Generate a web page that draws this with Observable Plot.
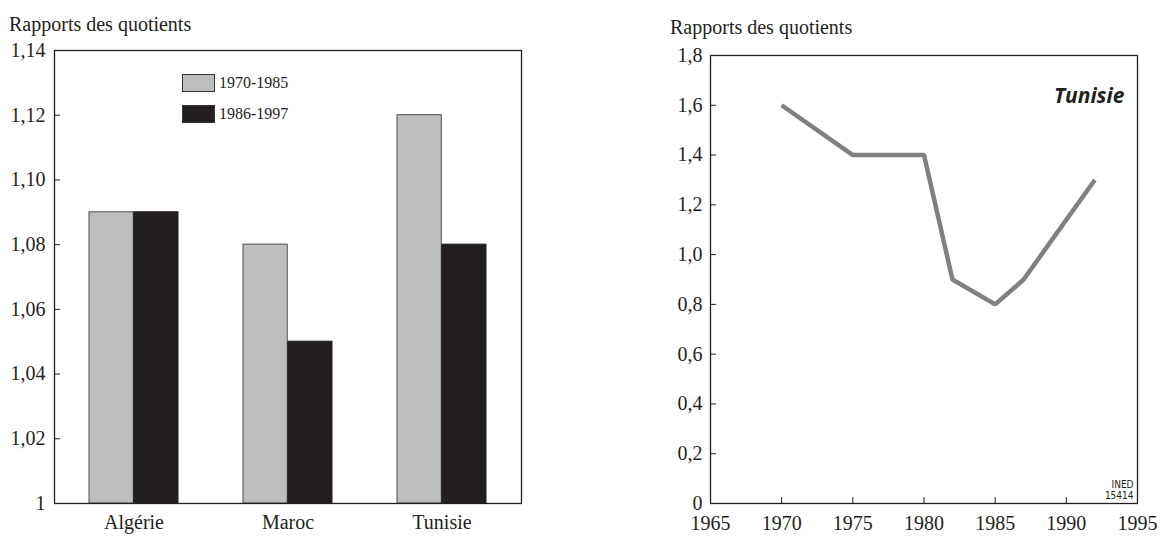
<!DOCTYPE html>
<html>
<head>
<meta charset="utf-8">
<script src="https://cdn.jsdelivr.net/npm/d3@7"></script>
<script src="https://cdn.jsdelivr.net/npm/@observablehq/plot@0.6"></script>
<style>
  html, body { margin: 0; padding: 0; background: #fff; }
  #root { position: relative; width: 1168px; height: 537px; overflow: hidden; font-family: "Liberation Serif", "Times New Roman", serif; color: #231f20; }
  .title { position: absolute; font-size: 20px; line-height: 20px; white-space: nowrap; }
  .panel { position: absolute; top: 0; }
  .lg-box { position: absolute; width: 31px; height: 16px; border: 1px solid #333; }
  .lg-txt { position: absolute; font-size: 16px; line-height: 16px; white-space: nowrap; }
</style>
</head>
<body>
<div id="root">
  <div class="title" style="left:9px; top:14px;">Rapports des quotients</div>
  <div class="title" style="left:670px; top:17px;">Rapports des quotients</div>
  <div id="left" class="panel" style="left:0px;"></div>
  <div id="right" class="panel" style="left:584px;"></div>
  <div class="lg-box" style="left:182px; top:74px; background:#bcbec0;"></div>
  <div class="lg-txt" style="left:219px; top:75px;">1970-1985</div>
  <div class="lg-box" style="left:182px; top:105px; background:#231f20;"></div>
  <div class="lg-txt" style="left:219px; top:106px;">1986-1997</div>
</div>
<script>
// ---- Data ----
const countries = ["Algérie", "Maroc", "Tunisie"];
const periods = ["1970-1985", "1986-1997"];
const ratios1970_1985 = [1.09, 1.08, 1.12];
const ratios1986_1997 = [1.09, 1.05, 1.08];
const leftYTicks = [1, 1.02, 1.04, 1.06, 1.08, 1.10, 1.12, 1.14];

const years = [1970, 1975, 1980, 1982, 1985, 1987, 1992];
const tunisieRatios = [1.6, 1.4, 1.4, 0.9, 0.8, 0.9, 1.3];
const rightYTicks = [0, 0.2, 0.4, 0.6, 0.8, 1.0, 1.2, 1.4, 1.6, 1.8];
const rightXTicks = [1965, 1970, 1975, 1980, 1985, 1990, 1995];
const panelLabel = "Tunisie";
const sourceLabel = "INED\n15414";

const fmtLeft = d => d === 1 ? "1" : d.toFixed(2).replace(".", ",");
const fmtRight = d => d === 0 ? "0" : d.toFixed(1).replace(".", ",");

const bars1 = countries.map((c, i) => ({country: c, period: periods[0], value: ratios1970_1985[i]}));
const bars2 = countries.map((c, i) => ({country: c, period: periods[1], value: ratios1986_1997[i]}));

const SERIF = "Liberation Serif";
const serif = {fontFamily: SERIF, fontSize: "20px", color: "#231f20", background: "transparent", overflow: "visible"};

const left = Plot.plot({
  width: 584, height: 537,
  marginLeft: 54, marginRight: 63, marginTop: 50, marginBottom: 34,
  style: serif,
  x: {domain: countries, paddingInner: 0.423, paddingOuter: 0.218, label: null},
  y: {domain: [1, 1.14], label: null},
  marks: [
    Plot.barY(bars1, {x: "country", y1: d => 1, y2: "value", fill: "#bcbec0", stroke: "#4d4d4f", strokeWidth: 1, insetRight: 44.75}),
    Plot.barY(bars2, {x: "country", y1: d => 1, y2: "value", fill: "#231f20", stroke: "#231f20", strokeWidth: 1, insetLeft: 44.75}),
    Plot.frame({stroke: "#231f20", strokeWidth: 1.3}),
    Plot.axisY({ticks: leftYTicks, tickFormat: fmtLeft, tickSize: -6, tickPadding: 15, stroke: "#231f20", fill: "#231f20", fontFamily: SERIF, fontSize: 20, label: null}),
    Plot.axisX({tickSize: 0, tickPadding: 11, fill: "#231f20", fontFamily: SERIF, fontSize: 20, label: null})
  ]
});
document.getElementById("left").appendChild(left);

const lineData = years.map((y, i) => ({year: y, value: tunisieRatios[i]}));

const right = Plot.plot({
  width: 584, height: 537,
  marginLeft: 126, marginRight: 31, marginTop: 55, marginBottom: 34,
  style: serif,
  x: {domain: [1965, 1995], label: null},
  y: {domain: [0, 1.8], label: null},
  marks: [
    Plot.frame({stroke: "#231f20", strokeWidth: 1.3}),
    Plot.axisY({ticks: rightYTicks, tickFormat: fmtRight, tickSize: -6, tickPadding: 14, stroke: "#231f20", fill: "#231f20", fontFamily: SERIF, fontSize: 20, label: null}),
    Plot.axisX({ticks: rightXTicks, tickFormat: d => String(d), tickSize: -6, tickPadding: 18, stroke: "#231f20", fill: "#231f20", fontFamily: SERIF, fontSize: 20, label: null}),
    Plot.line(lineData, {x: "year", y: "value", stroke: "#808080", strokeWidth: 4.5, strokeLinejoin: "miter", strokeLinecap: "butt"}),
    Plot.text([panelLabel], {frameAnchor: "top-right", text: d => d, textAnchor: "end", dx: -13, dy: 33, fontFamily: "Open Sans", fontWeight: "bold", fontStyle: "italic", fontSize: 21, fill: "#231f20"}),
    Plot.text([sourceLabel], {frameAnchor: "bottom-right", text: d => d, textAnchor: "end", lineAnchor: "bottom", lineHeight: 1.05, dx: -4, dy: -5, fontFamily: "Liberation Sans Narrow, DejaVu Sans Condensed, Liberation Sans, sans-serif", fontSize: 10, fill: "#231f20"})
  ]
});
document.getElementById("right").appendChild(right);
</script>
</body>
</html>
